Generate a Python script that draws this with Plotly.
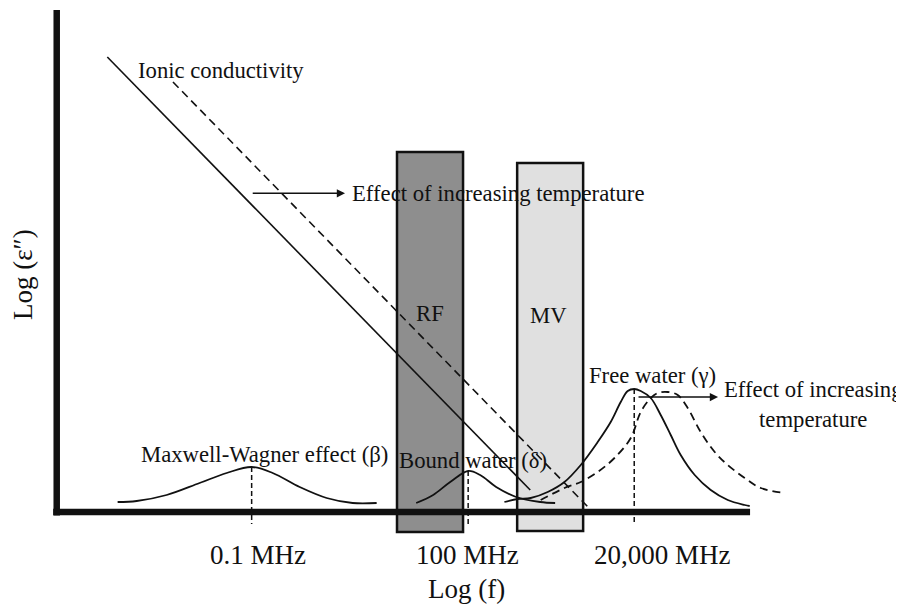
import math
import plotly.graph_objects as go

# ---------------- data (x = log10(f / MHz), y = log eps'' in arbitrary units) ----------------
tick_freqs_mhz = [0.1, 100, 20000]
tick_labels = ["0.1 MHz", "100 MHz", "20,000 MHz"]

# ionic conductivity (solid = reference temperature, dashed = higher temperature)
ionic_x = [-3.00, 2.86]
ionic_y = [4.55, 0.22]
ionic_hot_x = [-2.09, 3.66]
ionic_hot_y = [4.30, 0.05]

# Maxwell-Wagner relaxation (beta)
mw_x = [-2.857, -2.593, -2.178, -1.721, -1.346, -1.0, -0.709, -0.335, 0.039, 0.399, 0.732]
mw_y = [0.10, 0.11, 0.17, 0.29, 0.39, 0.45, 0.39, 0.25, 0.14, 0.09, 0.09]

# bound water relaxation (delta)
bw_x = [1.280, 1.515, 1.751, 2.0, 2.166, 2.388, 2.665, 2.998, 3.205]
bw_y = [0.09, 0.17, 0.30, 0.41, 0.37, 0.25, 0.15, 0.10, 0.09]

# free water relaxation (gamma), solid = reference temperature
fw_x = [2.502, 2.687, 2.867, 3.102, 3.334, 3.560, 3.795, 3.975, 4.114, 4.211, 4.301,
        4.391, 4.530, 4.668, 4.807, 4.945, 5.139, 5.361, 5.597, 5.832, 5.901]
fw_y = [0.10, 0.13, 0.14, 0.20, 0.30, 0.47, 0.70, 0.90, 1.10, 1.21, 1.23,
        1.21, 1.14, 0.97, 0.77, 0.57, 0.37, 0.22, 0.12, 0.07, 0.06]

# free water relaxation, higher temperature (dashed)
fw_hot_x = [3.005, 3.334, 3.560, 3.795, 4.027, 4.253, 4.391, 4.530, 4.627, 4.765,
            4.904, 5.042, 5.222, 5.416, 5.597, 5.832, 6.054, 6.386]
fw_hot_y = [0.12, 0.24, 0.30, 0.40, 0.54, 0.74, 1.00, 1.14, 1.19, 1.20,
            1.17, 1.04, 0.80, 0.60, 0.47, 0.34, 0.24, 0.19]

# heating bands
band_names = ["RF", "MV"]
band_x0 = [1.014, 2.679]
band_x1 = [1.929, 3.593]
band_top = [3.60, 3.49]
band_bottom = [-0.20, -0.19]

# ---------------- styling / layout ----------------
FONT = "Liberation Serif, Times New Roman, serif"
INK = "#111111"
band_fill = ["#8e8e8e", "#e0e0e0"]

FIG_W, FIG_H = 896, 597          # page body keeps an 8px margin
X_RANGE = [-4.376, 8.039]
Y_RANGE = [-0.93, 5.04]
PX_PER_DECADE = 72.17
AXIS_X0 = -3.75
AXIS_X_END = 5.906
AXIS_Y_POS = -3.701
AXIS_Y_TOP = 5.02
MARK_BOTTOM = -0.12
TICK_LABEL_Y = -0.43
tick_label_shift_px = [6.3, -0.7, 28.5]   # labels sit slightly right of their peaks

tick_x = [math.log10(f) for f in tick_freqs_mhz]

fig = go.Figure()

# axes drawn as thick lines
fig.add_trace(go.Scatter(x=[AXIS_Y_POS, AXIS_Y_POS], y=[AXIS_Y_TOP, -0.035], mode="lines",
                         line=dict(color=INK, width=6.5), hoverinfo="skip"))
fig.add_trace(go.Scatter(x=[AXIS_X0, AXIS_X_END], y=[0, 0], mode="lines",
                         line=dict(color=INK, width=6.5), hoverinfo="skip"))

# ionic conductivity lines
fig.add_trace(go.Scatter(x=ionic_x, y=ionic_y, mode="lines",
                         line=dict(color=INK, width=1.6), name="Ionic conductivity"))
fig.add_trace(go.Scatter(x=ionic_hot_x, y=ionic_hot_y, mode="lines",
                         line=dict(color=INK, width=1.6, dash="8px,5px"),
                         name="Ionic conductivity (higher T)"))

# relaxation peaks
for xs, ys, nm in [(mw_x, mw_y, "Maxwell-Wagner"), (bw_x, bw_y, "Bound water"),
                   (fw_x, fw_y, "Free water")]:
    fig.add_trace(go.Scatter(x=xs, y=ys, mode="lines", name=nm,
                             line=dict(color=INK, width=1.8, shape="spline", smoothing=1.0)))
fig.add_trace(go.Scatter(x=fw_hot_x, y=fw_hot_y, mode="lines", name="Free water (higher T)",
                         line=dict(color=INK, width=1.8, dash="8px,5px",
                                   shape="spline", smoothing=1.0)))

# dashed markers from each peak down to its frequency
peak_tops = [max(mw_y), max(bw_y), max(fw_y)]
for tx, top in zip(tick_x, peak_tops):
    fig.add_trace(go.Scatter(x=[tx, tx], y=[top, MARK_BOTTOM], mode="lines",
                             line=dict(color=INK, width=1.5, dash="5px,3px"), hoverinfo="skip"))

# bands (below the traces)
for nm, x0, x1, y0, y1, col in zip(band_names, band_x0, band_x1, band_bottom, band_top, band_fill):
    fig.add_shape(type="rect", xref="x", yref="y", x0=x0, x1=x1, y0=y0, y1=y1,
                  fillcolor=col, line=dict(color=INK, width=2.5), layer="below")

label_font = dict(family=FONT, size=22.7, color=INK)
annos = [
    dict(text="Ionic conductivity", x=-2.602, y=4.42, xanchor="left"),
    dict(text="Effect of increasing temperature", x=0.363, y=3.19, xanchor="left"),
    dict(text="RF", x=1.473, y=1.99, xanchor="center"),
    dict(text="MV", x=3.108, y=1.97, xanchor="center"),
    dict(text="Maxwell-Wagner effect (β)", x=-0.822, y=0.58, xanchor="center"),
    dict(text="Bound water (δ)", x=2.068, y=0.52, xanchor="center"),
    dict(text="Free water (γ)", x=4.548, y=1.37, xanchor="center"),
    dict(text="Effect of increasing<br>temperature", x=6.78, y=1.075, xanchor="center",
         align="center"),
]
for a in annos:
    fig.add_annotation(xref="x", yref="y", yanchor="middle", showarrow=False,
                       font=label_font, **a)

# arrows (effect of increasing temperature)
for tail_x, head_x, yy in [(-1.006, 0.294, 3.187), (4.340, 5.463, 1.15)]:
    fig.add_annotation(xref="x", yref="y", axref="x", ayref="y", x=head_x, y=yy,
                       ax=tail_x, ay=yy, text="", showarrow=True, arrowhead=2,
                       arrowsize=1.1, arrowwidth=1.5, arrowcolor=INK, standoff=0)

# frequency tick labels and axis titles
axis_font = dict(family=FONT, size=27, color=INK)
for tx, lab, sh in zip(tick_x, tick_labels, tick_label_shift_px):
    fig.add_annotation(xref="x", yref="y", x=tx + sh / PX_PER_DECADE, y=TICK_LABEL_Y,
                       text=lab, showarrow=False, xanchor="center", yanchor="middle",
                       font=axis_font)
fig.add_annotation(xref="x", yref="y", x=1.97, y=-0.77, text="Log (f)", showarrow=False,
                   xanchor="center", yanchor="middle", font=axis_font)
fig.add_annotation(xref="x", yref="y", x=-4.168, y=2.37, text="Log (ε″)", showarrow=False,
                   textangle=-90, xanchor="center", yanchor="middle", font=axis_font)

fig.update_layout(
    width=FIG_W, height=FIG_H, template="none",
    margin=dict(l=0, r=0, t=0, b=0),
    paper_bgcolor="white", plot_bgcolor="white", showlegend=False,
    xaxis=dict(range=X_RANGE, visible=False, showgrid=False, zeroline=False),
    yaxis=dict(range=Y_RANGE, visible=False, showgrid=False, zeroline=False),
)

fig.write_html("out.html")
